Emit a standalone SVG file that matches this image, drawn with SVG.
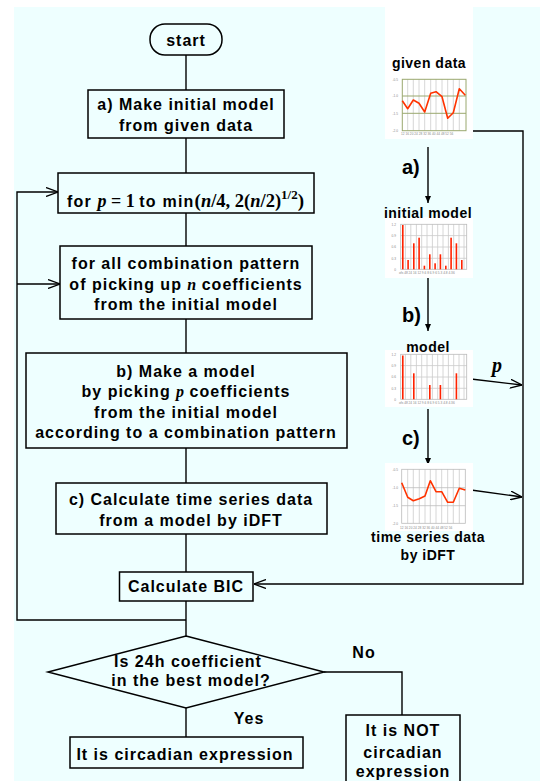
<svg xmlns="http://www.w3.org/2000/svg" width="540" height="781" viewBox="0 0 540 781">
<style>
.bg{fill:#eeffff}
.box{fill:none;stroke:#000;stroke-width:1.5}
.ln{fill:none;stroke:#000;stroke-width:1.4}
.t{font-family:"Liberation Sans",Arial,sans-serif;font-weight:bold;font-size:16px;letter-spacing:1px;fill:#000;text-anchor:middle}
.s{font-family:"Liberation Sans",Arial,sans-serif;font-weight:bold;font-size:14px;letter-spacing:0.5px;fill:#000;text-anchor:middle}
.big{font-family:"Liberation Sans",Arial,sans-serif;font-weight:bold;font-size:20px;fill:#000}
.m{font-family:"Liberation Serif","Times New Roman",serif;font-weight:bold;letter-spacing:0}
.mi{font-family:"Liberation Serif","Times New Roman",serif;font-style:italic;font-weight:bold;letter-spacing:0}
.panel{fill:#fff}
.tick{font-family:"Liberation Sans",Arial,sans-serif;font-size:3.2px;fill:#888}
.tr{text-anchor:end}
.g{stroke:#cccccc;stroke-width:0.8;fill:none}
.frame{stroke:#bbbbbb;stroke-width:0.8;fill:none}
.olive{stroke:#9aa86e;stroke-width:1;fill:none}
.red{stroke:#ff3300;stroke-width:1.6;fill:none;stroke-linejoin:round}
.bar{fill:#ff2200}
</style>
<defs>
<marker id="open" viewBox="0 0 12 10" refX="12" refY="5" markerWidth="12" markerHeight="10" markerUnits="userSpaceOnUse" orient="auto">
<path d="M0,0.5 L12,5 L0,9.5" fill="none" stroke="#000" stroke-width="1.3"/>
</marker>
<marker id="fill" viewBox="0 0 7 6" refX="7" refY="3" markerWidth="7" markerHeight="6" markerUnits="userSpaceOnUse" orient="auto">
<path d="M0,0 L7,3 L0,6 Z" fill="#000"/>
</marker>
</defs>
<rect class="bg" x="14" y="7" width="526" height="774"/>

<g id="connectors">
<path class="ln" d="M186,55 V90"/>
<path class="ln" d="M186,138 V173"/>
<path class="ln" d="M186,213 V246"/>
<path class="ln" d="M186,319 V353"/>
<path class="ln" d="M186,448 V483"/>
<path class="ln" d="M186,534 V572"/>
<path class="ln" d="M186,601 V636"/>
<path class="ln" d="M186,620 H17 V192 H58" marker-end="url(#open)"/>
<path class="ln" d="M17,284 H60" marker-end="url(#open)"/>
<path class="ln" d="M186,708 V737"/>
<path class="ln" d="M324,672 H402 V715"/>
<path class="ln" d="M472,131 H523 V584 H254" marker-end="url(#open)"/>
<path class="ln" d="M428,147 V203" marker-end="url(#fill)"/>
<path class="ln" d="M428,278 V331" marker-end="url(#fill)"/>
<path class="ln" d="M428,409 V465" marker-end="url(#fill)"/>
<path class="ln" d="M471,379 L522,385" marker-end="url(#open)"/>
<path class="ln" d="M471,490 L522,497" marker-end="url(#open)"/>
<text class="big" x="402" y="174">a)</text>
<text class="big" x="402" y="322">b)</text>
<text class="big" x="402" y="445">c)</text>
<text class="mi" x="492" y="372" font-size="20">p</text>
<text class="t" x="364" y="658">No</text>
<text class="t" x="249" y="724">Yes</text>
</g>

<g id="start">
<rect class="box" x="150" y="24" width="72" height="31" rx="15"/>
<text class="t" x="186" y="46">start</text>
</g>
<g id="make-initial">
<rect class="box" x="88" y="90" width="196" height="48"/>
<text class="t" x="186" y="110">a) Make initial model</text>
<text class="t" x="186" y="131">from given data</text>
</g>
<g id="for-p">
<rect class="box" x="58" y="173" width="256" height="40"/>
<text class="t" x="67" y="207" style="text-anchor:start;letter-spacing:1.2px">for <tspan class="mi" font-size="18">p</tspan><tspan class="m" font-size="18"> = 1 </tspan>to min<tspan class="m" font-size="19">(</tspan><tspan class="mi" font-size="18.5">n</tspan><tspan class="m" font-size="18.5">/4, 2(</tspan><tspan class="mi" font-size="18.5">n</tspan><tspan class="m" font-size="18.5">/2)</tspan><tspan class="m" font-size="13" dy="-8">1/2</tspan><tspan class="m" font-size="19" dy="8">)</tspan></text>
</g>
<g id="for-all">
<rect class="box" x="60" y="246" width="252" height="73"/>
<text class="t" x="186" y="269">for all combination pattern</text>
<text class="t" x="186" y="289.5">of picking up <tspan class="mi" font-size="16">n</tspan> coefficients</text>
<text class="t" x="186" y="310">from the initial model</text>
</g>
<g id="make-model">
<rect class="box" x="26" y="353" width="321" height="95"/>
<text class="t" x="186" y="376.5">b) Make a model</text>
<text class="t" x="186" y="397">by picking <tspan class="mi" font-size="16">p</tspan> coefficients</text>
<text class="t" x="186" y="417.5">from the initial model</text>
<text class="t" x="186" y="438">according to a combination pattern</text>
</g>
<g id="calc-ts">
<rect class="box" x="56" y="483" width="271" height="51"/>
<text class="t" x="191" y="505">c) Calculate time series data</text>
<text class="t" x="191" y="526">from a model by iDFT</text>
</g>
<g id="bic">
<rect class="box" x="119.5" y="572" width="133.5" height="29"/>
<text class="t" x="186" y="592">Calculate BIC</text>
</g>
<g id="decision">
<polygon class="box" points="186,636 324,672 186,708 48,672"/>
<text class="t" x="188" y="667">Is 24h coefficient</text>
<text class="t" x="191" y="686">in the best model?</text>
</g>
<g id="yes-result">
<rect class="box" x="70" y="737" width="233" height="31"/>
<text class="t" x="185" y="759.5">It is circadian expression</text>
</g>
<g id="no-result">
<rect class="box" x="346" y="715" width="114" height="80"/>
<text class="t" x="403" y="736">It is NOT</text>
<text class="t" x="403" y="757.5">circadian</text>
<text class="t" x="403" y="777">expression</text>
</g>

<g id="given-data">
<rect class="panel" x="385" y="7" width="88" height="132"/>
<text class="s" x="429" y="68">given data</text>
<path class="g" d="M407.7,79.3V130.7M413.3,79.3V130.7M419,79.3V130.7M424.7,79.3V130.7M430.7,79.3V130.7M436,79.3V130.7M442,79.3V130.7M447.7,79.3V130.7M453.3,79.3V130.7M459.3,79.3V130.7"/>
<rect class="olive" x="402.3" y="79.3" width="63.7" height="51.4"/>
<path class="olive" d="M402.3,96H466M402.3,113.3H466"/>
<polyline class="red" points="402.3,100.7 407.7,108.7 413.3,100 419,103.3 424.7,112 430.7,93.3 436,91.7 442,96.7 447.7,118.3 453.3,112.7 459.3,88.7 465.3,95.3"/>
<text class="tick tr" x="398" y="80.5">-0.5</text>
<text class="tick tr" x="398" y="97">-1.0</text>
<text class="tick tr" x="398" y="114.5">-1.5</text>
<text class="tick tr" x="398" y="132">-2.0</text>
<text class="tick" x="401" y="135">12 16 20 24 28 32 36 40 44 48 52 56</text>
</g>

<g id="initial-model">
<rect class="panel" x="385" y="217" width="88" height="61"/>
<text class="s" x="428" y="218">initial model</text>
<path class="g" d="M400.7,235.6H466.7M400.7,247H466.7M400.7,258.3H466.7M405.4,224.3V269.3M410.8,224.3V269.3M416.4,224.3V269.3M421.7,224.3V269.3M427,224.3V269.3M432.4,224.3V269.3M437.7,224.3V269.3M443,224.3V269.3M448.4,224.3V269.3M453.7,224.3V269.3M459,224.3V269.3M464,224.3V269.3"/>
<rect class="frame" x="400.7" y="224.3" width="66" height="45"/>
<g class="bar">
<rect x="402" y="225" width="1.6" height="44.3"/>
<rect x="407.3" y="260" width="1.6" height="9.3"/>
<rect x="413" y="243.3" width="1.6" height="26"/>
<rect x="418.3" y="237.7" width="1.6" height="31.6"/>
<rect x="423.6" y="265.7" width="1.6" height="3.6"/>
<rect x="429" y="254.3" width="1.6" height="15"/>
<rect x="434.3" y="263.3" width="1.6" height="6"/>
<rect x="439.6" y="254.3" width="1.6" height="15"/>
<rect x="445" y="265.7" width="1.6" height="3.6"/>
<rect x="450.3" y="237.7" width="1.6" height="31.6"/>
<rect x="455.6" y="243.3" width="1.6" height="26"/>
<rect x="461" y="260" width="1.6" height="9.3"/>
</g>
<text class="tick tr" x="396" y="225.5">1.2</text>
<text class="tick tr" x="396" y="237">0.9</text>
<text class="tick tr" x="396" y="248">0.6</text>
<text class="tick tr" x="396" y="259.5">0.3</text>
<text class="tick tr" x="396" y="270.5">0</text>
<text class="tick" x="399" y="274">ofs 48 24 16 12 9.6 8 6.9 6 5.3 4.8 4.36</text>
</g>

<g id="model">
<rect class="panel" x="385" y="350" width="88" height="57"/>
<text class="s" x="428" y="352">model</text>
<path class="g" d="M400.7,365.6H466.7M400.7,377H466.7M400.7,388.3H466.7M405.4,354.3V399.3M410.8,354.3V399.3M416.4,354.3V399.3M421.7,354.3V399.3M427,354.3V399.3M432.4,354.3V399.3M437.7,354.3V399.3M443,354.3V399.3M448.4,354.3V399.3M453.7,354.3V399.3M459,354.3V399.3M464,354.3V399.3"/>
<rect class="frame" x="400.7" y="354.3" width="66" height="45"/>
<g class="bar">
<rect x="402" y="355.5" width="1.6" height="43.8"/>
<rect x="413" y="373.3" width="1.6" height="26"/>
<rect x="429" y="385" width="1.6" height="14.3"/>
<rect x="439.6" y="385" width="1.6" height="14.3"/>
<rect x="455.6" y="373.3" width="1.6" height="26"/>
</g>
<text class="tick tr" x="396" y="355.5">1.2</text>
<text class="tick tr" x="396" y="367">0.9</text>
<text class="tick tr" x="396" y="378">0.6</text>
<text class="tick tr" x="396" y="389.5">0.3</text>
<text class="tick tr" x="396" y="400.5">0</text>
<text class="tick" x="399" y="404">ofs 48 24 16 12 9.6 8 6.9 6 5.3 4.8 4.36</text>
</g>

<g id="time-series">
<rect class="panel" x="385" y="463" width="88" height="68"/>
<path class="g" d="M407.7,469.3V523.3M413.3,469.3V523.3M419.3,469.3V523.3M425,469.3V523.3M430.3,469.3V523.3M436,469.3V523.3M441.7,469.3V523.3M447.7,469.3V523.3M453.3,469.3V523.3M459.3,469.3V523.3"/>
<rect class="frame" x="401.7" y="469.3" width="63.6" height="54"/>
<path class="frame" d="M401.7,487.7H465.3M401.7,505.7H465.3"/>
<polyline class="red" points="401.7,482.7 407.7,497.3 413.3,500.7 419.3,498.7 425,496 430.3,480.7 436,491.7 441.7,491.7 447.7,502.3 453.3,502.3 459.3,488.3 465.3,490"/>
<text class="tick tr" x="398" y="470.5">-0.5</text>
<text class="tick tr" x="398" y="489">-1.0</text>
<text class="tick tr" x="398" y="507">-1.5</text>
<text class="tick tr" x="398" y="524.5">-2.0</text>
<text class="tick" x="400" y="528.5">12 16 20 24 28 32 36 40 44 48 52 56</text>
<text class="s" x="428" y="542">time series data</text>
<text class="s" x="428" y="560">by iDFT</text>
</g>
</svg>
